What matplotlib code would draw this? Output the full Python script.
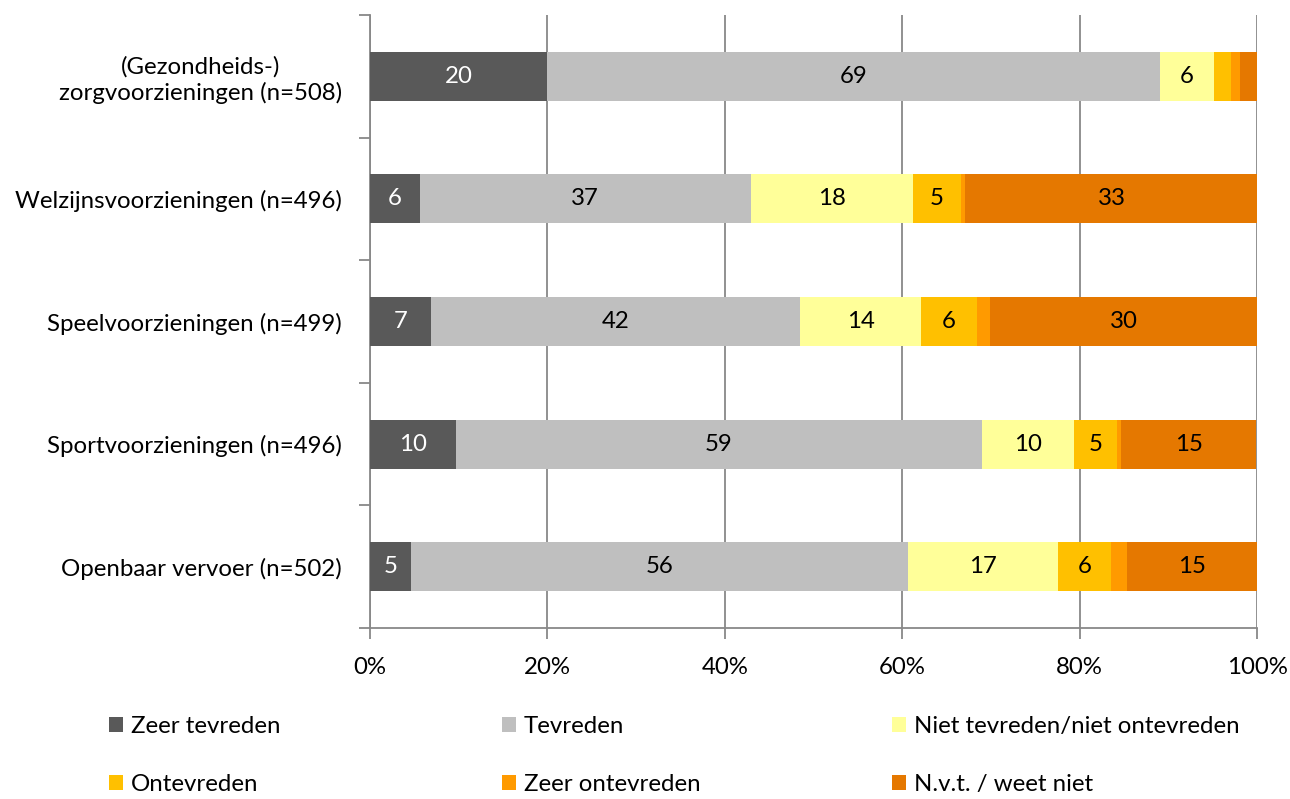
import numpy as np
import matplotlib.pyplot as plt
from matplotlib.patches import Patch

categories = [
    "(Gezondheids-)\nzorgvoorzieningen (n=508)",
    "Welzijnsvoorzieningen (n=496)",
    "Speelvoorzieningen (n=499)",
    "Sportvoorzieningen (n=496)",
    "Openbaar vervoer (n=502)",
]
series_names = [
    "Zeer tevreden",
    "Tevreden",
    "Niet tevreden/niet ontevreden",
    "Ontevreden",
    "Zeer ontevreden",
    "N.v.t. / weet niet",
]
zeer_tevreden = [20.0, 5.6, 6.9, 9.7, 4.6]
tevreden = [69.1, 37.3, 41.6, 59.3, 56.0]
neutraal = [6.0, 18.3, 13.6, 10.4, 17.0]
ontevreden = [2.0, 5.4, 6.3, 4.8, 5.9]
zeer_ontevreden = [1.0, 0.5, 1.5, 0.5, 1.8]
nvt = [1.9, 33.0, 30.1, 15.2, 14.7]

colors = ["#595959", "#BFBFBF", "#FFFF99", "#FFC000", "#FF9A00", "#E57800"]
text_colors = ["white", "black", "black", "black", "black", "black"]

plt.rcParams["font.family"] = ["Lato", "DejaVu Sans"]
FS = 17.3

fig = plt.figure(figsize=(12.9, 7.99), dpi=100)
ax = fig.add_axes([370 / 1290, 1 - 628 / 799, (1257 - 370) / 1290, (628 - 15) / 799])

series = [zeer_tevreden, tevreden, neutraal, ontevreden, zeer_ontevreden, nvt]
y = np.arange(len(categories))
left = np.zeros(len(categories))
for vals, color, tcol, name in zip(series, colors, text_colors, series_names):
    vals = np.array(vals)
    ax.barh(y, vals, left=left, height=0.4, color=color, label=name, zorder=3)
    for yi, (l, v) in enumerate(zip(left, vals)):
        if v >= 4:
            ax.text(l + v / 2, yi, f"{int(round(v))}", ha="center", va="center",
                    fontsize=FS, color=tcol, zorder=4)
    left = left + vals

ax.set_xlim(0, 100)
ax.set_ylim(len(categories) - 0.5, -0.5)
ax.set_xticks(np.arange(0, 101, 20))
ax.set_xticklabels([f"{v}%" for v in range(0, 101, 20)], fontsize=FS)
ax.set_yticks(y)
ax.set_yticklabels(categories, fontsize=FS, multialignment="center")
ax.set_yticks(np.arange(-0.5, len(categories)), minor=True)
ax.tick_params(axis="y", which="major", length=0, pad=20)
ax.tick_params(axis="y", which="minor", length=8, width=1.3, color="#888888")
ax.tick_params(axis="x", length=8, width=1.3, color="#888888", pad=13)
ax.grid(axis="x", color="#888888", linewidth=1.3, zorder=0)

for side in ["top", "right"]:
    ax.spines[side].set_visible(False)
for side in ["left", "bottom"]:
    ax.spines[side].set_color("#888888")
    ax.spines[side].set_linewidth(1.3)

handles = [Patch(facecolor=c, label=n) for c, n in zip(colors, series_names)]
col_x = [109 / 1290, 502 / 1290, 892 / 1290]
for i, x in enumerate(col_x):
    fig.legend(handles=[handles[i], handles[i + 3]], loc="upper left",
               bbox_to_anchor=(x, 1 - 716 / 799), frameon=False, fontsize=FS,
               handlelength=0.6, handleheight=0.6, handletextpad=0.3,
               labelspacing=1.55, borderpad=0, borderaxespad=0)

fig.savefig("out.png", dpi=100)
